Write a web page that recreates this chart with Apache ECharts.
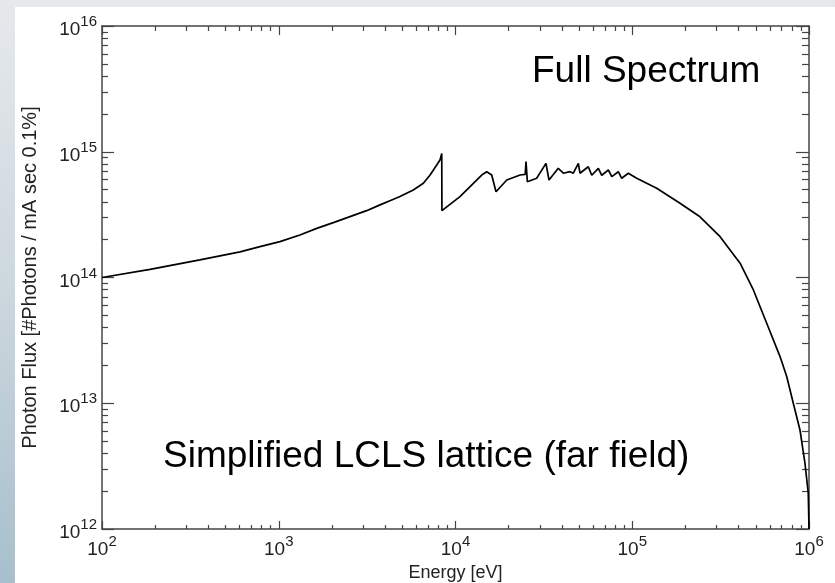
<!DOCTYPE html>
<html>
<head>
<meta charset="utf-8">
<title>Full Spectrum - Photon Flux</title>
<script src="https://cdn.jsdelivr.net/npm/echarts@6/dist/echarts.min.js"></script>
<style>
  html, body { margin: 0; padding: 0; }
  #chart { width: 835px; height: 583px; }
</style>
</head>
<body>
<div id="chart"></div>
<script>
// energy [eV] and photon flux
var energy = [
  100, 187, 358, 604, 783, 1016, 1318, 1640, 2036, 2530, 3140, 3740, 4256,
  4850, 5770, 6580, 7180, 7500, 7830, 8170, 8360,
  8380, 10600, 12620, 14070, 15020, 16030, 16950, 19500, 23200, 24800, 25060, 25500,
  28780, 32500, 33800, 38150, 40750, 44450, 46400, 49550, 50600, 56400,
  59000, 64300, 67200, 73250, 76600, 83450, 87150, 95000, 106000, 120700,
  137500, 186300, 241700, 314000, 407500, 484500, 576500, 685700, 748000,
  815000, 889000, 949000, 990500, 1000000
];
var flux = [
  1.0e14, 1.16e14, 1.38e14, 1.60e14, 1.76e14, 1.93e14, 2.18e14, 2.46e14, 2.73e14, 3.05e14, 3.40e14, 3.78e14, 4.08e14,
  4.40e14, 4.97e14, 5.61e14, 6.53e14, 7.16e14, 7.85e14, 8.6e14, 9.7e14,
  3.4e14, 4.4e14, 5.61e14, 6.53e14, 6.93e14, 6.53e14, 4.81e14, 5.96e14, 6.53e14, 6.6e14, 8.34e14, 5.78e14,
  6.15e14, 8.09e14, 5.96e14, 7.38e14, 6.75e14, 6.94e14, 6.75e14, 8.09e14, 6.75e14, 7.6e14,
  6.5e14, 7.38e14, 6.5e14, 7.16e14, 6.34e14, 6.94e14, 6.15e14, 6.75e14, 6.15e14, 5.61e14,
  5.12e14, 3.89e14, 3.04e14, 2.11e14, 1.30e14, 7.96e13, 4.33e13, 2.35e13, 1.63e13,
  1.0e13, 6.13e12, 3.33e12, 1.92e12, 1.0e12
];

var xMajor = [1e2, 1e3, 1e4, 1e5, 1e6];
var xMinor = [];
var yMajor = [1e12, 1e13, 1e14, 1e15, 1e16];
var yMinor = [];
[1e2, 1e3, 1e4, 1e5].forEach(function (d) {
  for (var k = 2; k <= 9; k++) xMinor.push(d * k);
});
[1e12, 1e13, 1e14, 1e15].forEach(function (d) {
  for (var k = 2; k <= 9; k++) yMinor.push(d * k);
});

var FONT = 'Liberation Sans, Arial, Helvetica, sans-serif';
var AXIS_COLOR = '#444';

function powLabel(v) {
  return '{b|10}{s|' + Math.round(Math.log10(v)) + '}';
}
var labelRich = {
  b: { fontSize: 19, padding: [8, 0, 0, 0], color: '#222', fontFamily: FONT },
  s: { fontSize: 15, padding: [0, 0, 8, 0], color: '#222', fontFamily: FONT }
};

function xAxisDef(pos, ticks, len, withLine, withLabel) {
  return {
    type: 'log', logBase: 10, min: 1e2, max: 1e6, position: pos,
    axisLine: { show: withLine, lineStyle: { color: AXIS_COLOR, width: 1.5 } },
    axisTick: { show: true, inside: true, length: len, customValues: ticks,
      lineStyle: { color: AXIS_COLOR, width: 1.2 } },
    axisLabel: withLabel ? {
      show: true, customValues: xMajor, margin: 3, formatter: powLabel, rich: labelRich
    } : { show: false },
    splitLine: { show: false },
    name: withLabel ? 'Energy [eV]' : '',
    nameLocation: 'middle', nameGap: 29,
    nameTextStyle: { fontSize: 18, color: '#222', fontFamily: FONT }
  };
}
function yAxisDef(pos, ticks, len, withLine, withLabel) {
  return {
    type: 'log', logBase: 10, min: 1e12, max: 1e16, position: pos,
    axisLine: { show: withLine, lineStyle: { color: AXIS_COLOR, width: 1.5 } },
    axisTick: { show: true, inside: true, length: len, customValues: ticks,
      lineStyle: { color: AXIS_COLOR, width: 1.2 } },
    axisLabel: withLabel ? {
      show: true, customValues: yMajor, margin: 5, formatter: powLabel, rich: labelRich
    } : { show: false },
    splitLine: { show: false },
    name: withLabel ? 'Photon Flux [#Photons / mA sec 0.1%]' : '',
    nameLocation: 'middle', nameGap: 62,
    nameTextStyle: { fontSize: 20, color: '#222', fontFamily: FONT }
  };
}

var chart = echarts.init(document.getElementById('chart'));
chart.setOption({
  animation: false,
  backgroundColor: 'transparent',
  textStyle: { fontFamily: FONT },
  grid: { left: 102, top: 26, right: 26, bottom: 54, outerBoundsMode: 'none' },
  xAxis: [
    xAxisDef('bottom', xMajor, 8, true, true),
    xAxisDef('bottom', xMinor, 4, false, false),
    xAxisDef('top', xMajor, 9, true, false),
    xAxisDef('top', xMinor, 5, false, false)
  ],
  yAxis: [
    yAxisDef('left', yMajor, 12, true, true),
    yAxisDef('left', yMinor, 6, false, false),
    yAxisDef('right', yMajor, 13, true, false),
    yAxisDef('right', yMinor, 7, false, false)
  ],
  series: [{
    type: 'line',
    xAxisIndex: 0, yAxisIndex: 0,
    data: energy.map(function (e, i) { return [e, flux[i]]; }),
    showSymbol: false, symbol: 'none',
    lineStyle: { color: '#000', width: 1.7 },
    z: 5
  }],
  graphic: [
    { type: 'rect', z: -100, silent: true, shape: { x: 0, y: 0, width: 835, height: 583 },
      style: { fill: new echarts.graphic.LinearGradient(0, 0, 0, 1, [
        { offset: 0, color: '#e6e9ec' }, { offset: 0.5, color: '#ccd7de' }, { offset: 1, color: '#a7bfcd' }
      ]) } },
    { type: 'rect', z: -90, silent: true, shape: { x: 15, y: 7, width: 820, height: 576 },
      style: { fill: '#fff' } },
    { type: 'text', z: 100, x: 532, y: 72,
      style: { text: 'Full Spectrum', font: '37px ' + FONT, fill: '#000',
        textAlign: 'left', textVerticalAlign: 'middle' } },
    { type: 'text', z: 100, x: 163, y: 457,
      style: { text: 'Simplified LCLS lattice (far field)', font: '37px ' + FONT, fill: '#000',
        textAlign: 'left', textVerticalAlign: 'middle' } }
  ]
});
</script>
</body>
</html>
